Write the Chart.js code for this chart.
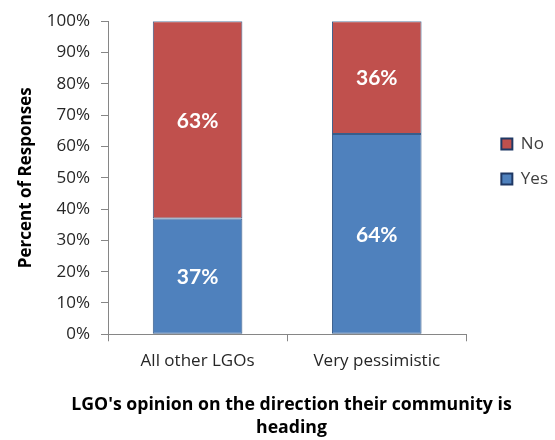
<!DOCTYPE html>
<html>
<head>
<meta charset="utf-8">
<script src="https://cdn.jsdelivr.net/npm/chart.js@4/dist/chart.umd.min.js"></script>
<style>
  html, body { margin: 0; padding: 0; background: #fff; }
  #wrap { width: 555px; height: 440px; position: relative; }
</style>
</head>
<body>
<div id="wrap"><canvas id="chart"></canvas></div>
<script>
const categories = ['All other LGOs', 'Very pessimistic'];
const yesValues = [37, 64];
const noValues = [63, 36];
const yTicks = [0, 10, 20, 30, 40, 50, 60, 70, 80, 90, 100];
const xTitle = ["LGO's opinion on the direction their community is", 'heading'];

const FONT = '"Open Sans", Lato, sans-serif';
const LABEL_FONT = 'Lato, "Open Sans", sans-serif';
Chart.defaults.font.family = FONT;

// white labels in the middle of each segment
const segmentLabels = {
    id: 'segmentLabels',
    afterDatasetsDraw(chart) {
        const ctx = chart.ctx;
        ctx.save();
        ctx.fillStyle = '#fff';
        ctx.font = 'bold 21px ' + LABEL_FONT;
        ctx.textAlign = 'center';
        ctx.textBaseline = 'middle';
        chart.data.datasets.forEach((ds, i) => {
            chart.getDatasetMeta(i).data.forEach((bar, j) => {
                const p = bar.getCenterPoint();
                ctx.fillText(ds.data[j] + '%', p.x, p.y + 1);
            });
        });
        ctx.restore();
    }
};

// nudge legend and bottom title sideways, like the original
const nudge = {
    id: 'nudge',
    afterLayout(chart) {
        if (chart.legend) {
            chart.legend.left += 17;
            chart.legend.right += 17;
        }
        if (chart.titleBlock) {
            chart.titleBlock.left += 21;
            chart.titleBlock.right += 21;
        }
    }
};

new Chart(document.getElementById('chart'), {
    type: 'bar',
    data: {
        labels: categories,
        datasets: [
            {
                label: 'Yes',
                data: yesValues,
                backgroundColor: '#4F81BD',
                borderColor: '#385D8A',
                borderWidth: 1,
                borderSkipped: false,
                barPercentage: 0.5,
                categoryPercentage: 1
            },
            {
                label: 'No',
                data: noValues,
                backgroundColor: '#C0504D',
                borderColor: '#385D8A',
                borderWidth: 1,
                borderSkipped: false,
                barPercentage: 0.5,
                categoryPercentage: 1
            }
        ]
    },
    options: {
        responsive: true,
        maintainAspectRatio: false,
        animation: false,
        layout: { padding: { top: 10, right: 14, left: 0, bottom: 0 } },
        plugins: {
            title: {
                display: true,
                position: 'bottom',
                text: xTitle,
                color: '#000',
                font: { family: FONT, size: 17.7, weight: 'bold', lineHeight: 1.32 },
                padding: { top: 19, bottom: 0 }
            },
            legend: {
                position: 'right',
                align: 'start',
                reverse: true,
                title: { display: true, text: ' ', font: { size: 12 }, padding: { top: 0, bottom: 93 } },
                labels: {
                    boxWidth: 11,
                    boxHeight: 11,
                    padding: 18,
                    color: '#404040',
                    font: { size: 17 },
                    generateLabels(chart) {
                        const items = Chart.defaults.plugins.legend.labels.generateLabels(chart);
                        items.forEach(it => { it.strokeStyle = '#1F3864'; it.lineWidth = 2; });
                        return items;
                    }
                }
            },
            tooltip: { enabled: false }
        },
        scales: {
            x: {
                stacked: true,
                afterFit: axis => { axis.height = 40; },
                grid: { drawOnChartArea: false, offset: true, tickLength: 7, color: '#868686' },
                border: { color: '#868686' },
                ticks: { color: '#262626', font: { size: 17 }, padding: 10 }
            },
            y: {
                stacked: true,
                min: 0,
                max: 100,
                afterFit: axis => { axis.width = 108; },
                afterBuildTicks: axis => { axis.ticks = yTicks.map(v => ({ value: v })); },
                grid: { drawOnChartArea: false, tickLength: 7, color: '#868686' },
                border: { color: '#868686' },
                ticks: {
                    color: '#262626',
                    font: { size: 17 },
                    padding: 11,
                    callback: v => v + '%'
                },
                title: {
                    display: true,
                    text: 'Percent of Responses',
                    color: '#000',
                    font: { size: 17, weight: 'bold' },
                    padding: { top: 16, bottom: 0 }
                }
            }
        }
    },
    plugins: [segmentLabels, nudge]
});
</script>
</body>
</html>
